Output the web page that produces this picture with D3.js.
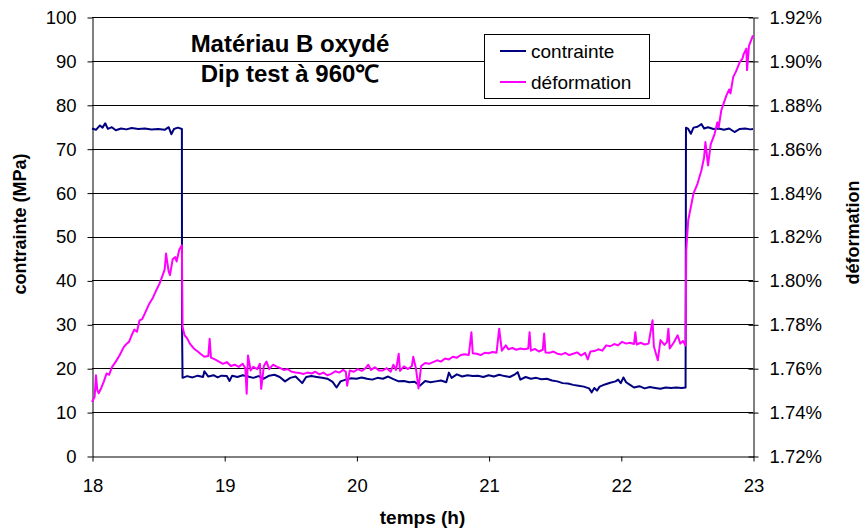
<!DOCTYPE html>
<html><head><meta charset="utf-8">
<script src="https://cdn.jsdelivr.net/npm/d3@7"></script>
<style>
body{margin:0;background:#fff}
svg{display:block}
text{font-family:Arial,"Liberation Sans",Helvetica,sans-serif;fill:#000}
</style>
</head><body>
<svg id="c" width="865" height="531"></svg>
<script>
// ---- data ----
const contrainteTime = [18.00,18.03,18.06,18.08,18.10,18.12,18.15,18.18,18.22,18.26,18.30,18.35,18.40,18.45,18.50,18.55,18.58,18.60,18.62,18.65,18.68,18.681,18.685,18.72,18.76,18.80,18.84,18.85,18.88,18.92,18.95,18.98,19.02,19.04,19.06,19.10,19.14,19.18,19.22,19.26,19.30,19.34,19.38,19.42,19.46,19.50,19.54,19.59,19.62,19.66,19.70,19.74,19.78,19.82,19.85,19.88,19.92,19.96,20.00,20.04,20.08,20.12,20.16,20.20,20.24,20.28,20.32,20.36,20.40,20.44,20.48,20.52,20.56,20.60,20.64,20.68,20.70,20.72,20.76,20.80,20.84,20.88,20.92,20.96,21.00,21.04,21.08,21.12,21.16,21.20,21.22,21.24,21.28,21.32,21.36,21.40,21.44,21.48,21.52,21.56,21.60,21.64,21.68,21.72,21.76,21.78,21.80,21.82,21.84,21.88,21.92,21.96,21.98,22.00,22.02,22.04,22.07,22.10,22.14,22.18,22.22,22.26,22.30,22.34,22.38,22.42,22.46,22.49,22.493,22.51,22.53,22.55,22.58,22.61,22.63,22.66,22.70,22.74,22.78,22.82,22.86,22.90,22.94,22.98,23.00];
const contrainteValue = [74.6,74.3,75.3,74.8,75.8,74.5,74.9,74.2,74.6,74.4,74.7,74.5,74.6,74.4,74.5,74.3,74.9,73.3,74.5,74.8,74.5,29.5,17.8,18.2,17.9,18.3,18.0,19.3,18.1,18.4,17.9,18.3,18.2,17.1,18.3,18.0,18.4,18.1,17.8,18.2,17.6,18.3,18.5,18.0,17.0,17.8,18.1,16.6,18.0,18.2,18.0,17.8,17.6,16.9,15.6,17.0,17.4,17.7,17.6,17.9,17.6,17.4,17.8,17.6,18.1,17.5,17.0,17.1,16.8,16.9,16.0,17.1,16.8,17.0,17.2,16.8,19.0,17.8,18.6,18.1,18.4,18.2,18.3,18.0,18.4,18.1,18.5,18.2,18.0,18.6,19.1,17.4,18.0,17.6,17.8,17.5,17.6,17.2,17.0,16.6,16.5,16.2,16.0,15.8,15.4,14.5,15.5,14.9,15.8,16.3,16.7,17.0,17.4,16.6,17.9,16.8,16.2,15.6,15.9,15.4,15.7,15.5,15.3,15.6,15.5,15.6,15.5,15.6,74.8,74.5,73.4,74.8,75.0,75.6,74.6,74.9,74.5,74.6,74.3,74.6,73.8,74.5,74.6,74.4,74.5];

const deformTime = [18.00,18.02,18.03,18.04,18.05,18.07,18.09,18.11,18.13,18.15,18.18,18.21,18.24,18.26,18.28,18.30,18.32,18.34,18.36,18.38,18.40,18.43,18.46,18.49,18.51,18.53,18.55,18.56,18.58,18.59,18.61,18.63,18.64,18.66,18.68,18.685,18.70,18.72,18.74,18.77,18.80,18.82,18.85,18.88,18.89,18.90,18.93,18.96,18.99,19.02,19.05,19.08,19.11,19.14,19.16,19.17,19.18,19.20,19.22,19.25,19.27,19.28,19.30,19.32,19.34,19.37,19.40,19.42,19.45,19.48,19.51,19.54,19.57,19.60,19.63,19.66,19.69,19.72,19.75,19.78,19.81,19.84,19.87,19.90,19.92,19.93,19.95,19.98,20.01,20.04,20.07,20.09,20.11,20.14,20.17,20.20,20.23,20.26,20.28,20.30,20.32,20.33,20.36,20.39,20.42,20.43,20.45,20.47,20.49,20.52,20.55,20.58,20.61,20.64,20.67,20.70,20.73,20.76,20.79,20.82,20.85,20.87,20.88,20.91,20.94,20.97,21.00,21.03,21.06,21.08,21.10,21.13,21.15,21.18,21.21,21.24,21.27,21.30,21.31,21.32,21.35,21.38,21.41,21.42,21.43,21.46,21.49,21.52,21.55,21.58,21.61,21.64,21.67,21.70,21.73,21.75,21.77,21.80,21.83,21.86,21.89,21.92,21.95,21.98,22.01,22.04,22.07,22.10,22.11,22.12,22.15,22.18,22.21,22.24,22.25,22.28,22.30,22.33,22.35,22.36,22.37,22.40,22.43,22.45,22.47,22.49,22.495,22.51,22.55,22.58,22.61,22.63,22.64,22.66,22.68,22.71,22.73,22.74,22.76,22.78,22.80,22.82,22.83,22.85,22.87,22.90,22.92,22.93,22.95,22.955,22.97,22.99,23.00];
const deformValue = [1.7446,1.7470,1.7568,1.7500,1.7486,1.7510,1.7540,1.7576,1.7570,1.7604,1.7630,1.7660,1.7696,1.7710,1.7720,1.7750,1.7776,1.7766,1.7818,1.7824,1.7850,1.7890,1.7920,1.7960,1.7984,1.8016,1.8050,1.8122,1.8040,1.8024,1.8096,1.8106,1.8086,1.8140,1.8160,1.7788,1.7750,1.7736,1.7712,1.7690,1.7676,1.7666,1.7652,1.7656,1.7734,1.7648,1.7640,1.7630,1.7620,1.7628,1.7610,1.7616,1.7606,1.7620,1.7600,1.7484,1.7658,1.7590,1.7606,1.7596,1.7620,1.7506,1.7610,1.7630,1.7596,1.7616,1.7606,1.7602,1.7592,1.7596,1.7584,1.7580,1.7578,1.7574,1.7580,1.7576,1.7584,1.7572,1.7580,1.7568,1.7574,1.7586,1.7580,1.7592,1.7584,1.7520,1.7590,1.7584,1.7596,1.7588,1.7600,1.7616,1.7592,1.7604,1.7590,1.7590,1.7600,1.7584,1.7616,1.7592,1.7666,1.7588,1.7608,1.7596,1.7610,1.7652,1.7600,1.7508,1.7610,1.7624,1.7620,1.7628,1.7636,1.7630,1.7644,1.7640,1.7652,1.7648,1.7660,1.7664,1.7660,1.7764,1.7668,1.7666,1.7660,1.7670,1.7668,1.7674,1.7670,1.7780,1.7680,1.7704,1.7686,1.7692,1.7684,1.7690,1.7686,1.7690,1.7764,1.7680,1.7688,1.7676,1.7684,1.7758,1.7672,1.7670,1.7676,1.7666,1.7662,1.7670,1.7660,1.7666,1.7672,1.7658,1.7670,1.7640,1.7676,1.7678,1.7686,1.7680,1.7704,1.7700,1.7710,1.7704,1.7720,1.7712,1.7716,1.7710,1.7764,1.7708,1.7716,1.7708,1.7712,1.7818,1.7700,1.7636,1.7728,1.7706,1.7720,1.7780,1.7690,1.7716,1.7750,1.7712,1.7724,1.7704,1.8138,1.8274,1.8396,1.8440,1.8502,1.8560,1.8630,1.8524,1.8620,1.8668,1.8720,1.8696,1.8774,1.8810,1.8844,1.8870,1.8852,1.8926,1.8950,1.8994,1.9010,1.9032,1.9056,1.8958,1.9070,1.9100,1.9116];

const xTicks = [18,19,20,21,22,23];
const leftTicks = [0,10,20,30,40,50,60,70,80,90,100];
const rightTicks = [1.72,1.74,1.76,1.78,1.80,1.82,1.84,1.86,1.88,1.90,1.92];
const titleLines = ["Matériau B oxydé","Dip test à 960℃"];
const seriesNames = ["contrainte","déformation"];
const seriesColors = ["#000080","#FF00FF"];
const xLabel = "temps (h)", yLeftLabel = "contrainte (MPa)", yRightLabel = "déformation";

// ---- layout ----
const L = 92, R = 753, T = 17, B = 456;
const svg = d3.select("#c");
const x = d3.scaleLinear().domain([18,23]).range([L,R]);
const yL = d3.scaleLinear().domain([0,100]).range([B,T]);
const yR = d3.scaleLinear().domain([1.72,1.92]).range([B,T]);

// gridlines
svg.append("g").selectAll("line").data(leftTicks.filter(d=>d>0)).join("line")
  .attr("x1",L).attr("x2",R)
  .attr("y1",d=>Math.round(yL(d))+0.5).attr("y2",d=>Math.round(yL(d))+0.5)
  .attr("stroke","#000").attr("stroke-width",1);

function styleAxis(g){
  g.select(".domain").attr("stroke","#000").attr("stroke-width",1);
  g.selectAll(".tick line").attr("stroke","#000");
  g.selectAll(".tick text").attr("font-size","18.5px").attr("fill","#000")
   .attr("font-family","Arial, 'Liberation Sans', sans-serif");
}

// bottom axis
svg.append("g").attr("transform",`translate(0.5,${B+0.5})`)
  .call(d3.axisBottom(x).tickValues(xTicks).tickSize(5).tickSizeOuter(0).tickPadding(17).tickFormat(d3.format("d")))
  .call(styleAxis);

// left axis
svg.append("g").attr("transform",`translate(${L+0.5},0.5)`)
  .call(d3.axisLeft(yL).tickValues(leftTicks).tickSize(5).tickSizeOuter(0).tickPadding(11).tickFormat(d3.format("d")))
  .call(styleAxis);

// right axis
const gR = svg.append("g").attr("transform",`translate(${R+0.5},0.5)`)
  .call(d3.axisRight(yR).tickValues(rightTicks).tickSize(5).tickSizeOuter(0).tickPadding(11).tickFormat(d=>d3.format(".2f")(d)+"%"))
  .call(styleAxis);
gR.selectAll(".tick").append("line").attr("x1",-5).attr("x2",0).attr("stroke","#000");

// series
const lineL = d3.line().x(d=>x(d[0])).y(d=>yL(d[1]));
const lineR = d3.line().x(d=>x(d[0])).y(d=>yR(d[1]));
const cData = contrainteTime.map((t,i)=>[t,contrainteValue[i]]);
const dData = deformTime.map((t,i)=>[t,deformValue[i]]);

svg.append("path").datum(cData).attr("d",lineL)
  .attr("fill","none").attr("stroke",seriesColors[0]).attr("stroke-width",2).attr("stroke-linejoin","round");
svg.append("path").datum(dData).attr("d",lineR)
  .attr("fill","none").attr("stroke",seriesColors[1]).attr("stroke-width",2).attr("stroke-linejoin","round");

// title
svg.append("g").selectAll("text").data(titleLines).join("text")
  .attr("x",290).attr("y",(d,i)=>52+i*30).attr("text-anchor","middle")
  .attr("font-size","24px").attr("font-weight","bold").text(d=>d);

// legend
const lg = svg.append("g");
lg.append("rect").attr("x",484.5).attr("y",34.5).attr("width",165).attr("height",64)
  .attr("fill","#fff").attr("stroke","#000").attr("stroke-width",1);
seriesNames.forEach((n,i)=>{
  const yy = 51 + i*31;
  lg.append("line").attr("x1",500).attr("x2",526).attr("y1",yy).attr("y2",yy)
    .attr("stroke",seriesColors[i]).attr("stroke-width",2);
  lg.append("text").attr("x",531).attr("y",yy+6.5).attr("font-size","19px").text(n);
});

// axis titles
svg.append("text").attr("x",(L+R)/2).attr("y",524).attr("text-anchor","middle")
  .attr("font-size","19px").attr("font-weight","bold").text(xLabel);
svg.append("text").attr("transform","translate(26,224) rotate(-90)").attr("text-anchor","middle")
  .attr("font-size","18px").attr("font-weight","bold").text(yLeftLabel);
svg.append("text").attr("transform","translate(859,232.5) rotate(-90)").attr("text-anchor","middle")
  .attr("font-size","18px").attr("font-weight","bold").text(yRightLabel);
</script>
</body></html>
